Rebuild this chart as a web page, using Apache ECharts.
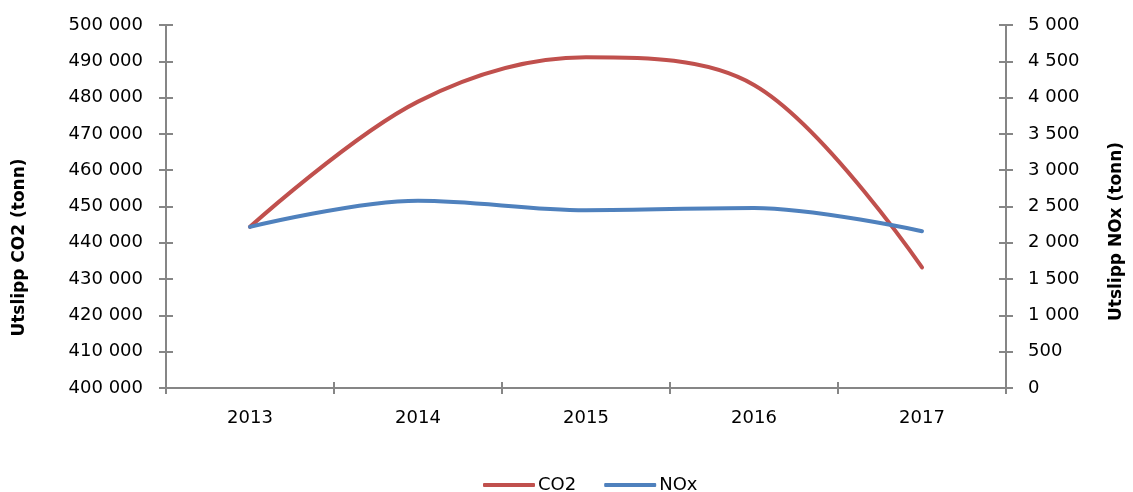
<!DOCTYPE html>
<html>
<head>
<meta charset="utf-8">
<script src="https://cdn.jsdelivr.net/npm/echarts@6/dist/echarts.min.js"></script>
<style>
  html, body { margin: 0; padding: 0; background: #fff; }
  #chart { width: 1133px; height: 492px; }
</style>
</head>
<body>
<div id="chart"></div>
<script>
// Annual emissions, tonnes
const years = ['2013', '2014', '2015', '2016', '2017'];
const co2 = [444400, 478900, 491100, 483500, 433200];
const nox = [2220, 2580, 2450, 2480, 2160];

const FONT = '"DejaVu Sans", sans-serif';
const AXIS_COLOR = '#868686';

// Thousands grouped with a space, e.g. 450 000
const fmt = v => String(v).replace(/\B(?=(\d{3})+(?!\d))/g, ' ');

const axisLine = { show: true, lineStyle: { color: AXIS_COLOR, width: 2 } };
const labelStyle = { color: '#000', fontSize: 18, fontFamily: FONT };
const titleStyle = { fontFamily: FONT, fontSize: 17, fontWeight: 'bold', color: '#000' };

const chart = echarts.init(document.getElementById('chart'));
chart.setOption({
  animation: false,
  textStyle: { fontFamily: FONT },
  grid: { left: 166, right: 120, top: 25, bottom: 104 },
  legend: {
    top: 474,
    left: 483,
    padding: 0,
    itemWidth: 52,
    itemHeight: 4,
    itemGap: 28,
    icon: 'roundRect',
    textStyle: { fontFamily: FONT, fontSize: 18, color: '#000', lineHeight: 22, padding: [0, 0, 0, -2] },
    data: ['CO2', 'NOx']
  },
  xAxis: [
    {
      type: 'category',
      data: years,
      boundaryGap: true,
      axisLine: axisLine,
      axisTick: { show: true, length: 6, lineStyle: { color: AXIS_COLOR, width: 2 } },
      axisLabel: Object.assign({ margin: 21 }, labelStyle),
      splitLine: { show: false }
    },
    {
      // inner half of the crossing ticks on the category axis
      type: 'category',
      data: years,
      position: 'bottom',
      boundaryGap: true,
      axisLine: { show: false },
      axisTick: { show: true, inside: true, length: 6, lineStyle: { color: AXIS_COLOR, width: 2 } },
      axisLabel: { show: false },
      splitLine: { show: false }
    }
  ],
  yAxis: [
    {
      type: 'value',
      min: 400000, max: 500000, interval: 10000,
      position: 'left',
      name: 'Utslipp CO2 (tonn)',
      nameLocation: 'middle',
      nameGap: 138,
      nameTextStyle: Object.assign({ padding: [0, 82, 0, 0] }, titleStyle),
      axisLine: axisLine,
      axisTick: { show: true, length: 7, lineStyle: { color: AXIS_COLOR, width: 2 } },
      axisLabel: Object.assign({ margin: 23, formatter: fmt }, labelStyle),
      splitLine: { show: false }
    },
    {
      type: 'value',
      min: 0, max: 5000, interval: 500,
      position: 'right',
      name: 'Utslipp NOx (tonn)',
      nameLocation: 'middle',
      nameGap: 102,
      nameRotate: 90,
      nameTextStyle: Object.assign({ padding: [0, 50, 0, 0] }, titleStyle),
      axisLine: axisLine,
      axisTick: { show: true, length: 7, lineStyle: { color: AXIS_COLOR, width: 2 } },
      axisLabel: Object.assign({ margin: 22, formatter: fmt }, labelStyle),
      splitLine: { show: false }
    },
    {
      // inner half of the crossing ticks, left axis
      type: 'value',
      min: 400000, max: 500000, interval: 10000,
      position: 'left',
      axisLine: { show: false },
      axisTick: { show: true, inside: true, length: 7, lineStyle: { color: AXIS_COLOR, width: 2 } },
      axisLabel: { show: false },
      splitLine: { show: false }
    },
    {
      // inner half of the crossing ticks, right axis
      type: 'value',
      min: 0, max: 5000, interval: 500,
      position: 'right',
      axisLine: { show: false },
      axisTick: { show: true, inside: true, length: 7, lineStyle: { color: AXIS_COLOR, width: 2 } },
      axisLabel: { show: false },
      splitLine: { show: false }
    }
  ],
  series: [
    {
      name: 'CO2',
      type: 'line',
      data: co2,
      yAxisIndex: 0,
      smooth: 0.35,
      symbol: 'none',
      color: '#C0504D',
      lineStyle: { width: 4, color: '#C0504D', cap: 'round' }
    },
    {
      name: 'NOx',
      type: 'line',
      data: nox,
      yAxisIndex: 1,
      smooth: 0.35,
      symbol: 'none',
      color: '#4F81BD',
      lineStyle: { width: 4, color: '#4F81BD', cap: 'round' }
    }
  ]
});
</script>
</body>
</html>
